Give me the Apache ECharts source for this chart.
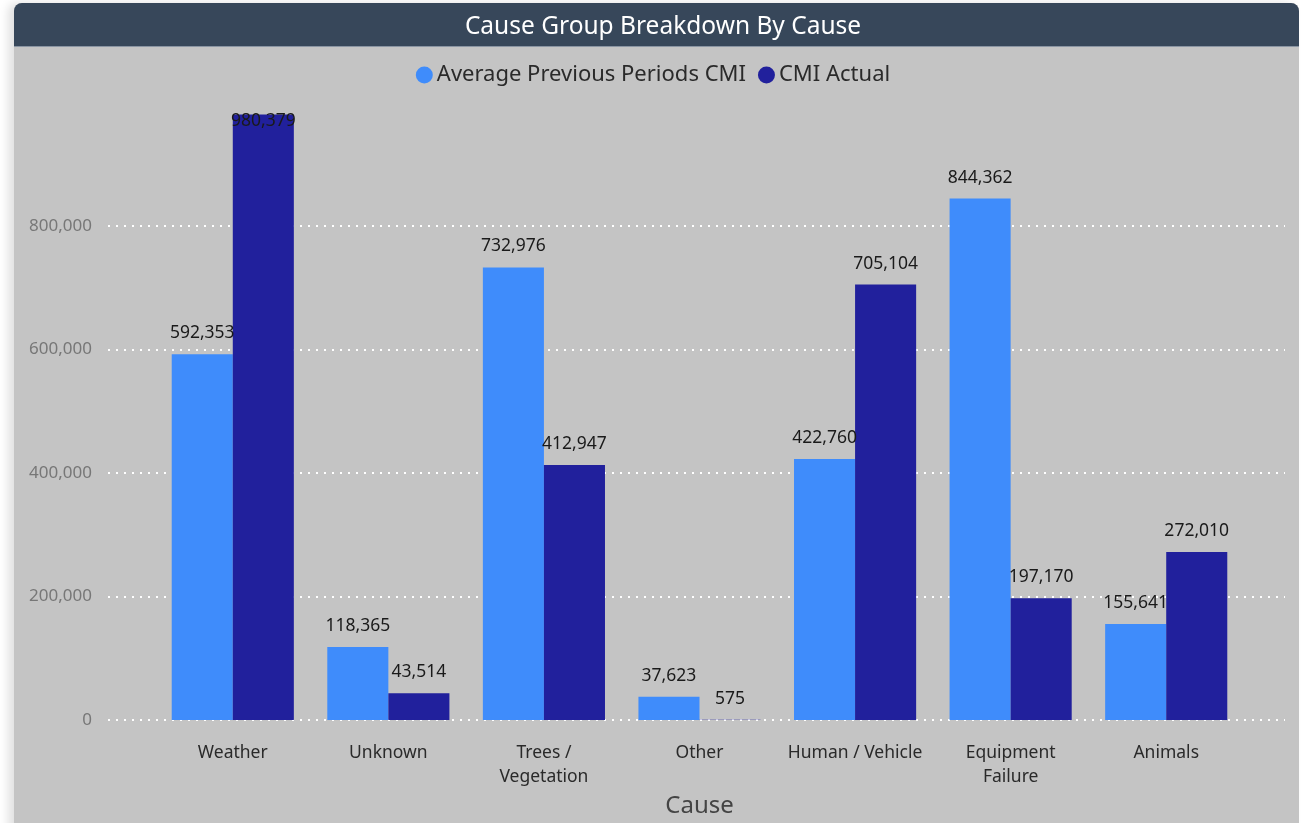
<!DOCTYPE html>
<html>
<head>
<meta charset="utf-8">
<script src="https://cdn.jsdelivr.net/npm/echarts@6/dist/echarts.min.js"></script>
<style>
html,body{margin:0;padding:0;background:#ffffff;width:1306px;height:823px;overflow:hidden;}
#card{position:absolute;left:14px;top:3px;width:1285px;height:840px;background:#c4c4c4;border-radius:8px;box-shadow:-6px 0 10px rgba(0,0,0,0.12);overflow:hidden;}
#head{position:absolute;left:0;top:0;width:100%;height:43px;background:#37475a;border-bottom:1px solid #8a95a3;}
#chart{position:absolute;left:0;top:0;width:1306px;height:823px;}
</style>
</head>
<body>
<div id="card"><div id="head"></div></div>
<div id="chart"></div>
<script>
const categories = ['Weather', 'Unknown', 'Trees /\nVegetation', 'Other', 'Human / Vehicle', 'Equipment\nFailure', 'Animals'];
const avgPrevious = [592353, 118365, 732976, 37623, 422760, 844362, 155641];
const cmiActual = [980379, 43514, 412947, 575, 705104, 197170, 272010];
const yTicks = { min: 0, max: 1000000, interval: 200000 };

const FONT = '"Noto Sans", "Open Sans", sans-serif';
const chart = echarts.init(document.getElementById('chart'), null, { renderer: 'canvas' });
const fmt = v => v.toLocaleString('en-US');

const actualData = cmiActual.map((v, i) => {
  if (v > 900000) {
    return { value: v, label: { position: 'insideTop', distance: -3 } };
  }
  return v;
});

chart.setOption({
  backgroundColor: 'transparent',
  animation: false,
  title: {
    text: 'Cause Group Breakdown By Cause',
    left: 658, top: 10, textAlign: 'center',
    textStyle: { color: '#ffffff', fontSize: 24.5, fontWeight: 'normal', fontFamily: FONT }
  },
  legend: {
    top: 59, left: 'center',
    icon: 'circle', itemWidth: 17, itemHeight: 17, itemGap: 12,
    textStyle: { color: '#2a2a2a', fontSize: 22, fontFamily: FONT, padding: [0, 0, 0, -1] },
    data: ['Average Previous Periods CMI', 'CMI Actual']
  },
  grid: [
    { left: 108, right: 21, top: 102.5, bottom: 103, containLabel: false },
    { left: 155, right: 62, top: 102.5, bottom: 103, containLabel: false }
  ],
  xAxis: [
    { gridIndex: 0, type: 'value', min: 0, max: 1, show: false },
    {
      gridIndex: 1, type: 'category', data: categories,
      axisLine: { show: false }, axisTick: { show: false },
      axisLabel: { color: '#2a2a2a', fontSize: 17.5, fontFamily: FONT, lineHeight: 24, margin: 21, interval: 0 },
      name: 'Cause', nameLocation: 'middle', nameGap: 72,
      nameTextStyle: { color: '#444444', fontSize: 24, fontFamily: FONT }
    }
  ],
  yAxis: [
    {
      gridIndex: 0, type: 'value', min: yTicks.min, max: yTicks.max, interval: yTicks.interval,
      axisLine: { show: false }, axisTick: { show: false },
      axisLabel: { color: '#777777', fontSize: 17, fontFamily: FONT, margin: 16, showMaxLabel: false, formatter: v => fmt(v) },
      splitLine: { show: true, showMaxLine: false, lineStyle: { color: '#ffffff', type: [2, 6], width: 2 } }
    },
    {
      gridIndex: 1, type: 'value', min: yTicks.min, max: yTicks.max, interval: yTicks.interval,
      show: false, splitLine: { show: false }
    }
  ],
  series: [
    {
      name: 'Average Previous Periods CMI', type: 'bar', xAxisIndex: 1, yAxisIndex: 1,
      data: avgPrevious, barGap: '0%', barCategoryGap: '21.5%',
      itemStyle: { color: '#3f8cfb' },
      label: { show: true, position: 'top', distance: 12, color: '#1a1a1a', fontSize: 17.5, fontFamily: FONT, formatter: p => fmt(p.value) }
    },
    {
      name: 'CMI Actual', type: 'bar', xAxisIndex: 1, yAxisIndex: 1,
      data: actualData, barGap: '0%', barCategoryGap: '21.5%',
      itemStyle: { color: '#21209c' },
      label: { show: true, position: 'top', distance: 12, color: '#1a1a1a', fontSize: 17.5, fontFamily: FONT, formatter: p => fmt(p.value) }
    }
  ]
});
</script>
</body>
</html>
